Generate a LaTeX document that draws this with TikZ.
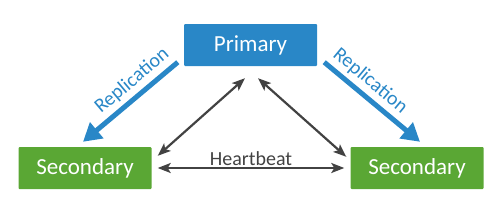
\documentclass[tikz,border=0pt]{standalone}
\usepackage{fontspec}
\setmainfont{Carlito}
\usetikzlibrary{arrows.meta,positioning}
\definecolor{repblue}{RGB}{41,135,199}
\definecolor{secgreen}{RGB}{90,167,52}
\definecolor{linkgray}{RGB}{66,66,66}
\begin{document}
\begin{tikzpicture}[x=1pt,y=-1pt,
    member/.style={minimum width=133pt,minimum height=42pt,inner sep=0pt,
      rounded corners=1pt,text=white,font=\fontsize{23}{23}\selectfont},
    replink/.style={repblue,line width=5pt,-{Triangle[length=18pt,width=20pt]}},
    hblink/.style={linkgray,line width=2.2pt,
      {Stealth[length=13pt,width=10pt,inset=3pt]}-{Stealth[length=13pt,width=10pt,inset=3pt]}},
    linklabel/.style={font=\fontsize{20}{20}\selectfont}]
  \useasboundingbox (0,0) rectangle (500,204);

  % Replica set members.
  \node[member,fill=repblue] (pri) at (250.5,45) {Primary};
  \node[member,fill=secgreen] (secl) at (85,168) {Secondary};
  \node[member,fill=secgreen] (secr) at (417,168) {Secondary};

  % Replication from the primary to both secondaries.
  \draw[replink] ([xshift=-6pt,yshift=4pt]pri.south west)
    -- node[linklabel,repblue,sloped,above,pos=0.38,inner sep=4pt] {Replication}
    ([xshift=-2pt,yshift=5pt]secl.north);
  \draw[replink] ([xshift=7pt,yshift=4pt]pri.south east)
    -- node[linklabel,repblue,sloped,above,pos=0.38,inner sep=4pt] {Replication}
    ([xshift=3pt,yshift=5pt]secr.north);

  % Heartbeats between all members.
  \draw[hblink] ([xshift=-5.5pt,yshift=-12pt]pri.south)
    -- ([xshift=6pt,yshift=-9pt]secl.north east);
  \draw[hblink] ([xshift=7.5pt,yshift=-12pt]pri.south)
    -- ([xshift=-4pt,yshift=-10pt]secr.north west);
  \draw[hblink] ([xshift=6pt]secl.east)
    -- node[linklabel,linkgray,above,inner sep=1.5pt] {Heartbeat}
    ([xshift=-6pt]secr.west);
\end{tikzpicture}
\end{document}
